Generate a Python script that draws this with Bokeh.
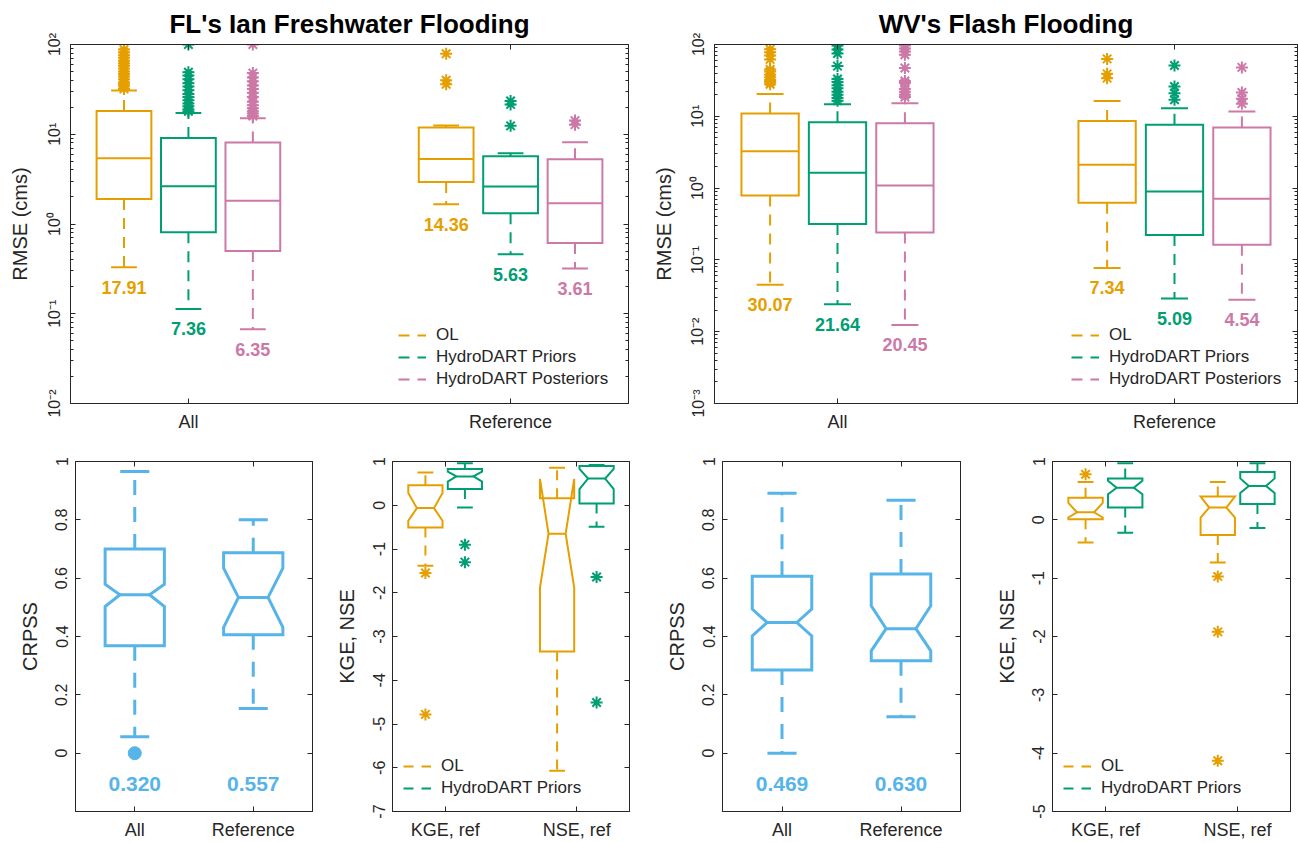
from bokeh.plotting import figure
from bokeh.layouts import row, column
from bokeh.models import FixedTicker, LinearAxis, LogAxis, Range1d, Legend, LegendItem
from bokeh.core.properties import value
from bokeh.embed import file_html
from bokeh.resources import INLINE

# ---------------------------------------------------------------- data
rmse_groups = ["All", "Reference"]
rmse_series = ["OL", "HydroDART Priors", "HydroDART Posteriors"]
# order: All-OL, All-Priors, All-Posteriors, Ref-OL, Ref-Priors, Ref-Posteriors
fl_rmse_lo = [0.33, 0.113, 0.067, 1.66, 0.46, 0.32]
fl_rmse_q1 = [1.9, 0.81, 0.50, 2.93, 1.32, 0.615]
fl_rmse_med = [5.4, 2.64, 1.82, 5.3, 2.62, 1.70]
fl_rmse_q3 = [18.2, 9.1, 8.1, 11.9, 5.7, 5.27]
fl_rmse_hi = [30.8, 17.2, 15.1, 12.5, 6.15, 8.15]
fl_rmse_labels = ["17.91", "7.36", "6.35", "14.36", "5.63", "3.61"]
fl_rmse_out = [
    [32, 34, 36, 38, 41, 44, 47, 50, 54, 58, 62, 66, 71, 76, 82, 88],
    [18, 19, 20.5, 22, 24, 26, 28, 31, 34, 37, 41, 45, 49, 100],
    [16, 17, 18, 19.5, 21, 23, 26, 29, 32, 35, 39, 43, 48, 100],
    [36, 40, 79],
    [12.4, 21.5, 23.5],
    [12.8, 14.2],
]
wv_rmse_lo = [0.045, 0.0242, 0.0124, 0.0774, 0.029, 0.0278]
wv_rmse_q1 = [0.79, 0.316, 0.24, 0.625, 0.222, 0.163]
wv_rmse_med = [3.27, 1.63, 1.09, 2.11, 0.90, 0.71]
wv_rmse_q3 = [10.9, 8.26, 8.0, 8.6, 7.6, 6.96]
wv_rmse_hi = [20.5, 14.7, 15.2, 16.3, 12.9, 11.7]
wv_rmse_labels = ["30.07", "21.64", "20.45", "7.34", "5.09", "4.54"]
wv_rmse_out = [
    [28, 30, 32, 35, 38, 42, 45, 62, 70, 78, 86],
    [16.5, 18, 20, 22, 24.5, 27, 30, 33, 50, 75, 85, 97],
    [18.5, 20, 22, 24, 29, 31, 47, 72, 80, 88, 97],
    [34, 39, 63],
    [17, 21, 26, 51],
    [15, 17.6, 21.5, 48],
]
rmse_log_ticks = [0.001, 0.01, 0.1, 1, 10, 100]
rmse_tick_labels = ["10⁻³", "10⁻²", "10⁻¹", "10⁰", "10¹", "10²"]

skill_groups = ["All", "Reference"]
fl_crpss_lo = [0.056, 0.153]
fl_crpss_q1 = [0.368, 0.406]
fl_crpss_nlo = [0.503, 0.431]
fl_crpss_med = [0.543, 0.534]
fl_crpss_nhi = [0.579, 0.634]
fl_crpss_q3 = [0.700, 0.687]
fl_crpss_hi = [0.966, 0.800]
fl_crpss_out = [[0.0], []]
fl_crpss_labels = ["0.320", "0.557"]
wv_crpss_lo = [0.0, 0.125]
wv_crpss_q1 = [0.285, 0.317]
wv_crpss_nlo = [0.402, 0.351]
wv_crpss_med = [0.448, 0.427]
wv_crpss_nhi = [0.494, 0.505]
wv_crpss_q3 = [0.607, 0.614]
wv_crpss_hi = [0.891, 0.867]
wv_crpss_out = [[], []]
wv_crpss_labels = ["0.469", "0.630"]
crpss_ticks = [0, 0.2, 0.4, 0.6, 0.8, 1]
crpss_tick_labels = ["0", "0.2", "0.4", "0.6", "0.8", "1"]

metric_groups = ["KGE, ref", "NSE, ref"]
metric_series = ["OL", "HydroDART Priors"]
# order: KGE-OL, KGE-Priors, NSE-OL, NSE-Priors
fl_eff_lo = [-1.38, -0.05, -6.07, -0.49]
fl_eff_q1 = [-0.51, 0.37, -3.34, 0.04]
fl_eff_nlo = [-0.355, 0.54, -1.88, 0.37]
fl_eff_med = [-0.065, 0.66, -0.65, 0.61]
fl_eff_nhi = [0.28, 0.77, 0.60, 0.83]
fl_eff_q3 = [0.46, 0.83, 0.16, 0.90]
fl_eff_hi = [0.75, 0.96, 0.86, 0.92]
fl_eff_out = [[-1.55, -4.78], [-0.9, -1.3], [], [-1.64, -4.51]]
wv_eff_lo = [-0.39, -0.22, -0.73, -0.14]
wv_eff_q1 = [0.01, 0.21, -0.26, 0.27]
wv_eff_nlo = [0.04, 0.44, 0.04, 0.46]
wv_eff_med = [0.13, 0.55, 0.21, 0.58]
wv_eff_nhi = [0.29, 0.67, 0.40, 0.71]
wv_eff_q3 = [0.38, 0.71, 0.40, 0.82]
wv_eff_hi = [0.65, 0.97, 0.65, 0.97]
wv_eff_out = [[0.78], [], [-0.97, -1.92, -4.13], []]
fl_eff_ticks = [-7, -6, -5, -4, -3, -2, -1, 0, 1]
wv_eff_ticks = [-5, -4, -3, -2, -1, 0, 1]

# ---------------------------------------------------------------- style
FONT = "Liberation Sans"
AX = "#262626"
C_OL = "#E69F00"
C_PRI = "#009E73"
C_POST = "#CC79A7"
C_SKILL = "#56B4E9"


def base_fig(width, height, left, right, top, bottom, xr, yr, log=False):
    p = figure(width=width, height=height, x_range=Range1d(*xr), y_range=Range1d(*yr),
               y_axis_type="log" if log else "linear", output_backend="svg",
               toolbar_location=None, min_border_left=left, min_border_right=right,
               min_border_top=top, min_border_bottom=bottom)
    p.xgrid.visible = False
    p.ygrid.visible = False
    p.outline_line_color = AX
    p.outline_line_width = 1
    return p


def style_axis(ax, size):
    ax.axis_line_color = AX
    ax.major_tick_line_color = AX
    ax.minor_tick_line_color = AX
    ax.major_tick_in = 5
    ax.major_tick_out = 0
    ax.minor_tick_in = 3
    ax.minor_tick_out = 0
    ax.major_label_text_font = FONT
    ax.major_label_text_color = AX
    ax.major_label_text_font_size = size
    ax.axis_label_text_font = FONT
    ax.axis_label_text_font_style = "normal"
    ax.axis_label_text_color = AX
    ax.axis_label_text_font_size = "20px"


def setup_axes(p, xticks, xlabels, yticker, ylabels, ylabel, log=False):
    xa = p.xaxis[0]
    xa.ticker = FixedTicker(ticks=xticks)
    xa.major_label_overrides = dict(zip(xticks, xlabels))
    style_axis(xa, "18px")
    xa.major_label_standoff = 8
    ya = p.yaxis[0]
    ya.ticker = yticker
    ya.major_label_overrides = ylabels
    ya.major_label_orientation = "vertical"
    ya.axis_label = ylabel
    style_axis(ya, "16px")
    ya.major_label_standoff = 8
    ya.axis_label_standoff = 12
    top = LinearAxis(ticker=FixedTicker(ticks=xticks))
    right = (LogAxis if log else LinearAxis)(ticker=yticker)
    for ax in (top, right):
        style_axis(ax, "1px")
        ax.major_label_text_alpha = 0
        ax.major_label_standoff = 0
    p.add_layout(top, "above")
    p.add_layout(right, "right")


def add_legend(p, names, renderers, loc):
    items = [LegendItem(label=value(n), renderers=[r]) for n, r in zip(names, renderers)]
    lg = Legend(items=items, location=loc, border_line_color=None, background_fill_alpha=0,
                padding=0, margin=0, spacing=0, glyph_width=28, glyph_height=22,
                label_height=22, label_standoff=10, label_text_font=FONT,
                label_text_font_size="17px", label_text_color=AX)
    p.add_layout(lg)


def draw_boxes(p, xc, w, cap, lo, q1, med, q3, hi, color, lw, dash, nlo=None, nhi=None):
    xs, ys, mx0, mx1 = [], [], [], []
    for i, x in enumerate(xc):
        xl, xr = x - w / 2, x + w / 2
        if nlo is not None:
            xil, xir = x - w / 4, x + w / 4
            xs.append([xl, xl, xil, xl, xl, xr, xr, xir, xr, xr])
            ys.append([q1[i], nlo[i], med[i], nhi[i], q3[i], q3[i], nhi[i], med[i], nlo[i], q1[i]])
            mx0.append(xil)
            mx1.append(xir)
        else:
            xs.append([xl, xl, xr, xr])
            ys.append([q1[i], q3[i], q3[i], q1[i]])
            mx0.append(xl)
            mx1.append(xr)
    whisk = p.segment(x0=xc + xc, y0=list(q3) + list(q1), x1=xc + xc, y1=list(hi) + list(lo),
                      line_color=color, line_width=lw, line_dash=dash)
    p.segment(x0=[x - cap / 2 for x in xc] * 2, y0=list(hi) + list(lo),
              x1=[x + cap / 2 for x in xc] * 2, y1=list(hi) + list(lo),
              line_color=color, line_width=lw)
    p.patches(xs=xs, ys=ys, fill_color=None, line_color=color, line_width=lw, line_join="miter")
    p.segment(x0=mx0, y0=list(med), x1=mx1, y1=list(med), line_color=color, line_width=lw)
    return whisk


def rmse_panel(title, lo, q1, med, q3, hi, outl, labels, ymin, width, left, right, xr, legend_loc):
    p = base_fig(width, 451, left, right, 42, 48, xr, (ymin, 100), log=True)
    ticks = [t for t in rmse_log_ticks if t >= ymin]
    minor = [t * k for t in ticks[:-1] for k in range(2, 10)]
    overrides = {t: l for t, l in zip(rmse_log_ticks, rmse_tick_labels) if t >= ymin}
    setup_axes(p, [1, 2], rmse_groups, FixedTicker(ticks=ticks, minor_ticks=minor), overrides,
               "RMSE (cms)", log=True)
    offsets = [-0.2, 0.0, 0.2]
    colors = [C_OL, C_PRI, C_POST]
    whisks = []
    for s, c in enumerate(colors):
        idx = [g * 3 + s for g in range(2)]
        xc = [g + 1 + offsets[s] for g in range(2)]
        ox, oy = [], []
        for i, x in zip(idx, xc):
            ox += [x] * len(outl[i])
            oy += outl[i]
        p.scatter(ox, oy, marker="asterisk", size=12, line_color=c, line_width=2)
        whisks.append(draw_boxes(p, xc, 0.17, 0.08, [lo[i] for i in idx], [q1[i] for i in idx],
                                 [med[i] for i in idx], [q3[i] for i in idx],
                                 [hi[i] for i in idx], c, 2, "11 8"))
        p.text(x=xc, y=[lo[i] for i in idx], text=[labels[i] for i in idx], text_color=c,
               text_font=value(FONT), text_font_style="bold", text_font_size="18px",
               text_align="center", text_baseline="middle", y_offset=20)
    add_legend(p, rmse_series, whisks, legend_loc)
    p.title.text = title
    p.title.align = "center"
    p.title.text_font = FONT
    p.title.text_font_size = "26px"
    p.title.text_font_style = "bold"
    p.title.text_color = "black"
    p.title.standoff = 12
    return p


def crpss_panel(lo, q1, nlo, med, nhi, q3, hi, outl, labels, width, left, right):
    p = base_fig(width, 392, left, right, 10, 32, (0.5, 2.5), (-0.2, 1.0))
    setup_axes(p, [1, 2], skill_groups, FixedTicker(ticks=crpss_ticks),
               dict(zip(crpss_ticks, crpss_tick_labels)), "CRPSS")
    xc = [1, 2]
    ox, oy = [], []
    for x, o in zip(xc, outl):
        ox += [x] * len(o)
        oy += o
    p.scatter(ox, oy, marker="circle", size=13, fill_color=C_SKILL, line_color=C_SKILL)
    draw_boxes(p, xc, 0.5, 0.245, lo, q1, med, q3, hi, C_SKILL, 3, "15 12", nlo=nlo, nhi=nhi)
    p.text(x=xc, y=[-0.105] * 2, text=labels, text_color=C_SKILL, text_font=value(FONT),
           text_font_style="bold", text_font_size="21px", text_align="center",
           text_baseline="middle")
    return p


def eff_panel(lo, q1, nlo, med, nhi, q3, hi, outl, ymin, ticks, width, left, right):
    p = base_fig(width, 392, left, right, 10, 32, (0.6, 2.4), (ymin, 1))
    setup_axes(p, [1, 2], metric_groups, FixedTicker(ticks=ticks),
               {t: str(t) for t in ticks}, "KGE, NSE")
    offsets = [-0.15, 0.15]
    colors = [C_OL, C_PRI]
    whisks = []
    for s, c in enumerate(colors):
        idx = [g * 2 + s for g in range(2)]
        xc = [g + 1 + offsets[s] for g in range(2)]
        ox, oy = [], []
        for i, x in zip(idx, xc):
            ox += [x] * len(outl[i])
            oy += outl[i]
        p.scatter(ox, oy, marker="asterisk", size=12, line_color=c, line_width=2)
        whisks.append(draw_boxes(p, xc, 0.26, 0.12, [lo[i] for i in idx], [q1[i] for i in idx],
                                 [med[i] for i in idx], [q3[i] for i in idx],
                                 [hi[i] for i in idx], c, 2, "10 8",
                                 nlo=[nlo[i] for i in idx], nhi=[nhi[i] for i in idx]))
    add_legend(p, metric_series, whisks, (11, 12))
    return p


p1 = rmse_panel("FL's Ian Freshwater Flooding", fl_rmse_lo, fl_rmse_q1, fl_rmse_med, fl_rmse_q3,
                fl_rmse_hi, fl_rmse_out, fl_rmse_labels, 0.01, 649, 70, 21, (0.634, 2.366),
                (328, 13))
p2 = rmse_panel("WV's Flash Flooding", wv_rmse_lo, wv_rmse_q1, wv_rmse_med, wv_rmse_q3,
                wv_rmse_hi, wv_rmse_out, wv_rmse_labels, 0.001, 649, 60, 1, (0.635, 2.365),
                (357, 13))
p3 = crpss_panel(fl_crpss_lo, fl_crpss_q1, fl_crpss_nlo, fl_crpss_med, fl_crpss_nhi,
                 fl_crpss_q3, fl_crpss_hi, fl_crpss_out, fl_crpss_labels, 330, 75, 18)
p4 = eff_panel(fl_eff_lo, fl_eff_q1, fl_eff_nlo, fl_eff_med, fl_eff_nhi, fl_eff_q3, fl_eff_hi,
               fl_eff_out, -7, fl_eff_ticks, 320, 62, 21)
p5 = crpss_panel(wv_crpss_lo, wv_crpss_q1, wv_crpss_nlo, wv_crpss_med, wv_crpss_nhi,
                 wv_crpss_q3, wv_crpss_hi, wv_crpss_out, wv_crpss_labels, 330, 72, 20)
p6 = eff_panel(wv_eff_lo, wv_eff_q1, wv_eff_nlo, wv_eff_med, wv_eff_nhi, wv_eff_q3, wv_eff_hi,
               wv_eff_out, -5, wv_eff_ticks, 318, 72, 8)

layout = column(row(p1, p2), row(p3, p4, p5, p6))
open("out.html", "w").write(file_html(layout, INLINE))
